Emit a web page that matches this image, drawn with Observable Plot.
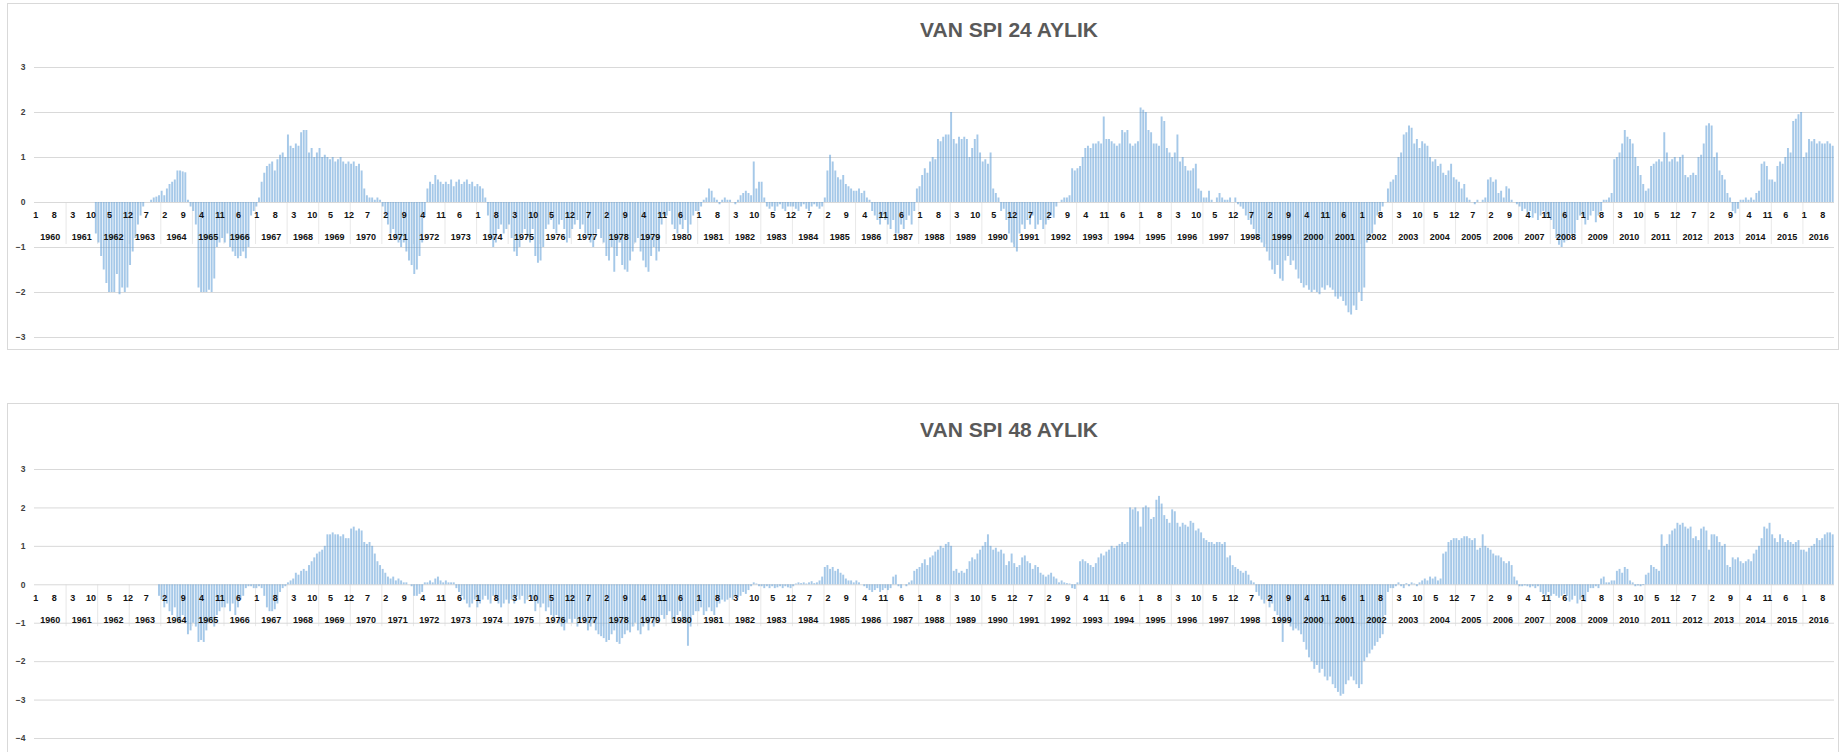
<!DOCTYPE html>
<html>
<head>
<meta charset="utf-8">
<script src="https://cdn.jsdelivr.net/npm/d3@7"></script>
<script src="https://cdn.jsdelivr.net/npm/@observablehq/plot@0.6"></script>
<style>
  html, body { margin: 0; padding: 0; background: #fff; }
  body { width: 1845px; height: 752px; position: relative; overflow: hidden; font-family: "Liberation Sans", Arial, sans-serif; }
  .panel { position: absolute; left: 7px; width: 1830px; border: 1px solid #d9d9d9; background: #fff; overflow: hidden; }
  .title { position: absolute; transform: translateX(-50%); white-space: nowrap; font-weight: bold; color: #595959; font-size: 21px; line-height: 21px; }
  .panel svg { position: absolute; left: 0; top: 0; }
</style>
</head>
<body>
<div id="p1" class="panel" style="top:3px;height:345px"><div class="title" style="left:1001px;top:15px">VAN SPI 24 AYLIK</div></div>
<div id="p2" class="panel" style="top:403px;height:352px"><div class="title" style="left:1001px;top:15px">VAN SPI 48 AYLIK</div></div>
<script>
// Year categories (outer axis level)
const years = [1960,1961,1962,1963,1964,1965,1966,1967,1968,1969,1970,1971,1972,1973,1974,1975,1976,1977,1978,1979,
  1980,1981,1982,1983,1984,1985,1986,1987,1988,1989,1990,1991,1992,1993,1994,1995,1996,1997,1998,1999,
  2000,2001,2002,2003,2004,2005,2006,2007,2008,2009,2010,2011,2012,2013,2014,2015,2016];

// Month tick labels shown on the inner axis level (every 7th month from Jan 1960)
const monthTickLabels = [1,8,3,10,5,12,7,2,9,4,11,6, 1,8,3,10,5,12,7,2,9,4,11,6, 1,8,3,10,5,12,7,2,9,4,11,6,
  1,8,3,10,5,12,7,2,9,4,11,6, 1,8,3,10,5,12,7,2,9,4,11,6, 1,8,3,10,5,12,7,2,9,4,11,6,
  1,8,3,10,5,12,7,2,9,4,11,6, 1,8,3,10,5,12,7,2,9,4,11,6, 1,8];
const monthTickStep = 7;

const N = null;
// SPI-24 monthly values, one row per year (Jan..Dec)
const spi24 = [
  [N,N,N,N,N,N,N,N,N,N,N,N],
  [N,N,N,N,N,N,N,N,N,N,N,-0.7],
  [-0.9,-1.2,-1.5,-1.8,-2.0,-2.0,-2.0,-1.6,-2.05,-1.9,-2.0,-1.9],
  [-1.4,-1.1,-0.8,-0.5,-0.3,-0.1,0,0,0.05,0.1,0.12,0.15],
  [0.25,0.15,0.3,0.4,0.45,0.5,0.7,0.7,0.68,0.66,0.05,-0.1],
  [-0.2,-0.5,-1.9,-2.0,-2.0,-2.0,-1.95,-2.0,-1.7,-1.0,-0.9,-0.8],
  [-0.9,-0.7,-1.0,-1.1,-1.2,-1.25,-1.2,-1.1,-1.25,-1.0,-0.3,-0.2],
  [-0.1,0.1,0.45,0.65,0.8,0.85,0.9,0.7,0.95,1.05,1.1,1.0],
  [1.5,1.25,1.2,1.3,1.25,1.55,1.6,1.6,1.1,1.2,1.0,1.1],
  [1.2,1.0,1.05,1.0,0.95,1.0,0.9,0.95,1.0,0.9,0.85,0.9],
  [0.85,0.9,0.8,0.85,0.7,0.3,0.15,0.1,0.1,0.05,0.1,0.05],
  [-0.1,-0.3,-0.5,-0.7,-0.6,-0.8,-0.9,-1.0,-0.9,-1.1,-1.3,-1.4],
  [-1.6,-1.5,-1.2,-0.9,-0.3,0.3,0.45,0.4,0.6,0.5,0.45,0.4],
  [0.45,0.4,0.5,0.35,0.45,0.5,0.4,0.45,0.5,0.4,0.45,0.35],
  [0.4,0.35,0.3,0.1,-0.3,-0.8,-1.0,-0.9,-0.6,-0.5,-0.7,-0.6],
  [-0.5,-0.8,-1.1,-1.2,-1.0,-0.7,-0.6,-0.8,-0.9,-0.6,-1.2,-1.35],
  [-1.3,-1.0,-0.6,-0.5,-0.4,-0.6,-0.7,-0.5,-0.4,-0.6,-0.9,-0.8],
  [-0.6,-0.5,-0.4,-0.6,-0.5,-0.7,-0.8,-0.9,-1.0,-0.7,-0.6,-0.8],
  [-0.9,-1.2,-1.3,-1.0,-1.55,-1.2,-0.9,-1.4,-1.5,-1.55,-1.3,-1.1],
  [-0.9,-0.8,-1.1,-1.3,-1.45,-1.55,-1.2,-1.0,-1.3,-1.1,-0.5,-0.3],
  [-0.3,-0.2,-0.5,-0.6,-0.7,-0.5,-0.6,-0.4,-0.7,-0.5,-0.3,-0.2],
  [-0.2,-0.1,0.05,0.1,0.3,0.25,0.1,0.05,-0.05,0.05,0.1,0.05],
  [0.05,0,-0.05,0.05,0.15,0.2,0.25,0.2,0.15,0.9,0.3,0.45],
  [0.45,0.1,-0.1,-0.15,-0.1,-0.2,-0.1,-0.05,-0.15,-0.2,-0.1,-0.1],
  [-0.1,-0.15,-0.2,-0.1,-0.05,-0.15,-0.2,-0.1,-0.05,-0.1,-0.15,-0.1],
  [0.1,0.7,1.05,0.9,0.7,0.55,0.5,0.6,0.4,0.35,0.3,0.25],
  [0.25,0.3,0.2,0.25,0.1,0.05,-0.2,-0.3,-0.4,-0.5,-0.3,-0.4],
  [-0.5,-0.6,-0.4,-0.7,-0.7,-0.5,-0.6,-0.4,-0.3,-0.5,-0.2,0.3],
  [0.35,0.6,0.75,0.65,0.9,1.0,0.95,1.4,1.35,1.45,1.5,1.5],
  [2.0,1.4,1.3,1.45,1.4,1.45,1.4,1.0,1.2,1.4,1.5,1.1],
  [0.9,0.95,0.85,1.1,0.3,0.2,0.1,-0.2,-0.15,-0.4,-0.7,-0.9],
  [-1.0,-1.1,-0.7,-0.5,-0.6,-0.4,-0.5,-0.3,-0.6,-0.5,-0.4,-0.6],
  [-0.5,-0.4,-0.3,-0.35,-0.1,0,0.05,0.1,0.1,0.15,0.75,0.7],
  [0.75,0.8,1.0,1.2,1.25,1.2,1.3,1.3,1.35,1.3,1.9,1.4],
  [1.4,1.35,1.3,1.25,1.3,1.6,1.55,1.6,1.3,1.25,1.3,1.35],
  [2.1,2.05,2.0,1.6,1.55,1.3,1.3,1.25,1.9,1.8,1.2,1.1],
  [1.0,1.1,1.5,0.9,1.0,0.8,0.7,0.7,0.75,0.85,0.3,0.25],
  [0.1,0.1,0.25,0.05,0.0,0.1,0.2,0.1,0.05,0.05,0.1,0.0],
  [0.1,-0.05,-0.1,-0.15,-0.3,-0.4,-0.5,-0.6,-0.8,-0.7,-0.9,-1.0],
  [-1.1,-1.3,-1.5,-1.6,-1.4,-1.7,-1.75,-1.3,-1.2,-1.4,-1.3,-1.5],
  [-1.7,-1.8,-1.9,-1.85,-1.95,-2.0,-1.95,-2.0,-2.05,-1.9,-1.95,-1.85],
  [-1.9,-1.95,-2.1,-2.15,-2.1,-2.2,-2.3,-2.45,-2.5,-2.3,-2.4,-2.0],
  [-2.2,-1.9,-0.9,-0.8,-0.7,-0.5,-0.3,-0.2,-0.1,0.0,0.3,0.45],
  [0.5,0.6,1.0,1.1,1.5,1.55,1.7,1.65,1.3,1.4,1.2,1.35],
  [1.3,1.25,1.0,0.9,0.95,0.8,0.85,0.65,0.6,0.7,0.85,0.55],
  [0.5,0.45,0.3,0.4,0.1,0.05,0,-0.05,0.05,0,0.05,0.1],
  [0.5,0.55,0.45,0.5,0.2,0.25,0.1,0.35,0.3,0.05,0,-0.05],
  [-0.1,-0.2,-0.15,-0.3,-0.2,-0.35,-0.25,-0.4,-0.3,-0.2,-0.35,-0.3],
  [-0.4,-0.6,-0.8,-0.95,-1.0,-0.9,-0.85,-0.7,-0.75,-0.7,-0.4,-0.3],
  [-0.3,-0.5,-0.4,-0.3,-0.2,-0.45,-0.3,-0.2,0.05,0.05,0.1,0.2],
  [0.95,1.0,1.1,1.3,1.6,1.45,1.4,1.3,1.0,0.8,0.6,0.4],
  [0.25,0.3,0.8,0.85,0.9,0.95,0.9,1.55,1.1,0.9,0.95,1.0],
  [0.9,1.0,1.05,0.6,0.55,0.6,0.65,0.6,1.0,1.05,1.3,1.7],
  [1.75,1.7,1.0,1.1,0.7,0.6,0.5,0.2,0.1,-0.2,-0.25,-0.15],
  [0.05,0.05,0.1,0.05,0.1,0.05,0.2,0.25,0.85,0.9,0.8,0.5],
  [0.5,0.45,0.8,0.9,0.85,1.0,1.2,1.1,1.8,1.85,1.95,2.0],
  [1.0,1.1,1.4,1.35,1.4,1.3,1.35,1.3,1.3,1.35,1.3,1.25]
];

// SPI-48 monthly values, one row per year (Jan..Dec)
const spi48 = [
  [N,N,N,N,N,N,N,N,N,N,N,N],
  [N,N,N,N,N,N,N,N,N,N,N,N],
  [N,N,N,N,N,N,N,N,N,N,N,N],
  [N,N,N,N,N,N,N,N,N,N,N,-0.3],
  [-0.4,-0.6,-0.5,-0.7,-0.8,-0.6,-0.9,-1.0,-0.8,-1.0,-1.3,-1.2],
  [-1.0,-1.1,-1.5,-1.45,-1.5,-1.2,-1.0,-0.9,-1.1,-0.8,-0.7,-0.6],
  [-0.6,-0.5,-0.7,-0.5,-0.8,-0.6,-0.4,-0.3,-0.1,-0.05,-0.05,-0.1],
  [-0.1,-0.05,-0.1,-0.3,-0.6,-0.7,-0.7,-0.65,-0.5,-0.2,-0.1,-0.05],
  [0.05,0.1,0.15,0.3,0.25,0.35,0.4,0.35,0.5,0.6,0.7,0.8],
  [0.85,0.9,1.0,1.3,1.3,1.35,1.3,1.3,1.25,1.3,1.2,1.2],
  [1.45,1.5,1.4,1.45,1.4,1.1,1.05,1.1,1.0,0.8,0.6,0.5],
  [0.4,0.3,0.2,0.15,0.2,0.1,0.15,0.1,0.05,0.05,0,-0.05],
  [-0.3,-0.3,-0.25,-0.2,0.05,0.05,0.1,0.05,0.15,0.2,0.1,0.05],
  [0.1,0.05,0.05,0.05,-0.1,-0.2,-0.3,-0.4,-0.5,-0.6,-0.5,-0.4],
  [-0.6,-0.5,-0.4,-0.3,-0.4,-0.5,-0.3,-0.4,-0.5,-0.6,-0.5,-0.4],
  [-0.5,-0.4,-0.5,-0.3,-0.4,-0.3,-0.5,-0.4,-0.3,-0.4,-0.7,-0.5],
  [-0.6,-0.5,-0.7,-0.6,-0.8,-0.9,-0.8,-1.0,-1.1,-1.2,-1.0,-0.9],
  [-1.0,-0.9,-1.1,-1.0,-0.9,-1.0,-1.2,-1.1,-1.0,-1.2,-1.3,-1.35],
  [-1.4,-1.5,-1.45,-1.3,-1.2,-1.5,-1.55,-1.4,-1.3,-1.2,-1.25,-1.1],
  [-1.0,-1.2,-1.3,-1.1,-1.0,-1.2,-0.9,-1.1,-1.0,-0.9,-0.8,-0.9],
  [-0.8,-0.7,-1.0,-0.9,-0.8,-0.7,-0.9,-1.0,-1.6,-1.1,-0.8,-0.7],
  [-0.7,-0.6,-0.8,-0.7,-0.6,-0.7,-0.8,-0.6,-0.5,-0.4,-0.45,-0.4],
  [-0.35,-0.4,-0.3,-0.35,-0.3,-0.2,-0.25,-0.15,-0.05,0.05,0.02,-0.05],
  [-0.05,-0.1,-0.05,-0.1,-0.05,-0.1,-0.08,-0.05,-0.1,-0.05,-0.08,-0.1],
  [-0.05,0.02,0.05,0.03,0.05,0.02,0.05,0.08,0.03,0.05,0.1,0.2],
  [0.45,0.5,0.4,0.45,0.35,0.4,0.3,0.25,0.15,0.1,0.1,0.05],
  [0.1,0.05,0,-0.05,-0.1,-0.15,-0.2,-0.15,-0.1,-0.2,-0.15,-0.1],
  [-0.15,-0.1,0.2,0.25,-0.05,-0.1,0,-0.05,0.05,0.1,0.35,0.4],
  [0.45,0.55,0.65,0.5,0.7,0.75,0.85,0.9,1.0,0.95,1.05,1.1],
  [1.0,0.35,0.4,0.3,0.35,0.3,0.4,0.6,0.7,0.65,0.8,0.9],
  [1.0,1.1,1.3,1.0,0.9,0.95,0.85,0.9,0.8,0.5,0.6,0.8],
  [0.55,0.45,0.5,0.7,0.75,0.6,0.55,0.4,0.5,0.45,0.3,0.25],
  [0.2,0.25,0.3,0.2,0.15,0.05,0.1,0.05,0.03,0.02,-0.1,-0.12],
  [0.05,0.6,0.65,0.6,0.55,0.5,0.45,0.55,0.7,0.8,0.75,0.85],
  [0.9,1.0,0.95,1.0,1.05,1.1,1.05,1.1,2.0,1.95,2.0,1.9],
  [1.5,2.0,2.05,2.0,1.7,1.75,2.2,2.3,2.1,1.8,1.7,1.6],
  [1.95,1.9,1.6,1.5,1.6,1.55,1.5,1.65,1.6,1.4,1.45,1.35],
  [1.2,1.15,1.1,1.1,1.05,1.1,1.1,1.05,1.1,0.7,0.75,0.5],
  [0.45,0.4,0.35,0.3,0.35,0.25,0.1,0.05,-0.2,-0.3,-0.4,-0.5],
  [-0.4,-0.6,-0.5,-0.7,-0.8,-0.9,-1.5,-1.0,-0.9,-1.1,-1.2,-1.15],
  [-1.2,-1.3,-1.5,-1.7,-1.9,-2.0,-2.2,-2.1,-2.3,-2.2,-2.4,-2.5],
  [-2.4,-2.6,-2.7,-2.8,-2.9,-2.85,-2.6,-2.5,-2.4,-2.5,-2.6,-2.7],
  [-2.6,-2.0,-1.9,-1.8,-1.7,-1.6,-1.5,-1.4,-1.3,-0.8,-0.2,-0.1],
  [-0.1,-0.05,0.05,-0.05,-0.1,0.03,-0.05,0.05,0.02,-0.05,0.05,0.1],
  [0.15,0.1,0.2,0.15,0.2,0.1,0.15,0.8,0.85,1.1,1.15,1.2],
  [1.2,1.15,1.2,1.25,1.25,1.2,1.15,1.2,0.9,0.95,1.3,1.0],
  [0.95,0.9,0.8,0.75,0.75,0.7,0.6,0.55,0.6,0.5,0.2,0.1],
  [-0.05,-0.05,-0.03,-0.05,-0.08,-0.05,-0.1,-0.05,-0.2,-0.25,-0.3,-0.2],
  [-0.3,-0.25,-0.3,-0.35,-0.3,-0.25,-0.3,-0.45,-0.4,-0.3,-0.5,-0.4],
  [-0.35,-0.45,-0.2,-0.1,-0.1,-0.05,-0.1,0.15,0.2,0.05,0.05,0.1],
  [0.1,0.35,0.4,0.3,0.45,0.4,0.1,0.05,-0.05,-0.03,-0.05,-0.02],
  [0.25,0.3,0.5,0.45,0.4,0.35,1.3,1.0,1.05,1.3,1.4,1.45],
  [1.6,1.55,1.6,1.5,1.45,1.5,1.2,1.25,1.15,1.45,1.5,1.4],
  [0.9,1.3,1.3,1.25,1.1,1.0,1.05,0.5,0.45,0.7,0.65,0.7],
  [0.6,0.55,0.6,0.65,0.6,0.8,0.9,1.0,1.2,1.5,1.45,1.6],
  [1.3,1.2,1.1,1.3,1.2,1.1,1.15,1.1,1.05,1.1,1.15,0.9],
  [0.9,0.85,0.95,1.0,1.05,1.2,1.15,1.2,1.3,1.35,1.35,1.3]
];

const topTicks = [-3,-2,-1,0,1,2,3];
const bottomTicks = [-4,-3,-2,-1,0,1,2,3];

const FONT = "'Liberation Sans', Arial, sans-serif";

function buildChart(rows, yDomain, ticks, height, marginTop, marginBottom, pxPerUnit) {
  const nMonths = years.length * 12;
  const data = rows.flat().map((v, i) => ({i, v})).filter(d => d.v != null);
  const monthTicks = monthTickLabels.map((m, k) => ({i: k * monthTickStep, m}));
  const yearRows = years.map((y, k) => ({y, start: k * 12}));
  const labelDepth = 42 / pxPerUnit;
  return Plot.plot({
    width: 1830,
    height,
    marginLeft: 26,
    marginRight: 4,
    marginTop,
    marginBottom,
    style: {fontFamily: FONT, background: "transparent"},
    x: {domain: [0, nMonths], axis: null},
    y: {domain: yDomain, axis: null, label: null},
    marks: [
      Plot.gridY(ticks, {stroke: "#d9d9d9", strokeOpacity: 1, strokeWidth: 1}),
      Plot.ruleX(yearRows.slice(1), {x: "start", y1: 0, y2: -labelDepth, stroke: "#d9d9d9", strokeOpacity: 0.6}),
      Plot.rectY(data, {x1: "i", x2: d => d.i + 1, y: "v", fill: "#5b9bd5", fillOpacity: 0.55, insetLeft: 0.35, insetRight: 0.35}),
      Plot.axisY(ticks, {label: null, tickSize: 0, tickPadding: 9, fontSize: 8.5, fontWeight: "bold", fill: "#404040"}),
      Plot.text(monthTicks, {x: d => d.i + 0.5, y: 0, dy: 13, text: "m", fontSize: 9, fontWeight: "bold", fill: "#111"}),
      Plot.text(yearRows, {x: d => d.start + 6, y: 0, dy: 35, text: d => String(d.y), fontSize: 9, fontWeight: "bold", fill: "#111"})
    ]
  });
}

document.getElementById("p1").appendChild(buildChart(spi24, [-3, 3], topTicks, 345, 63, 12, 45));
document.getElementById("p2").appendChild(buildChart(spi48, [-4, 3], bottomTicks, 352, 65, 18, 38.5));
</script>
</body>
</html>
